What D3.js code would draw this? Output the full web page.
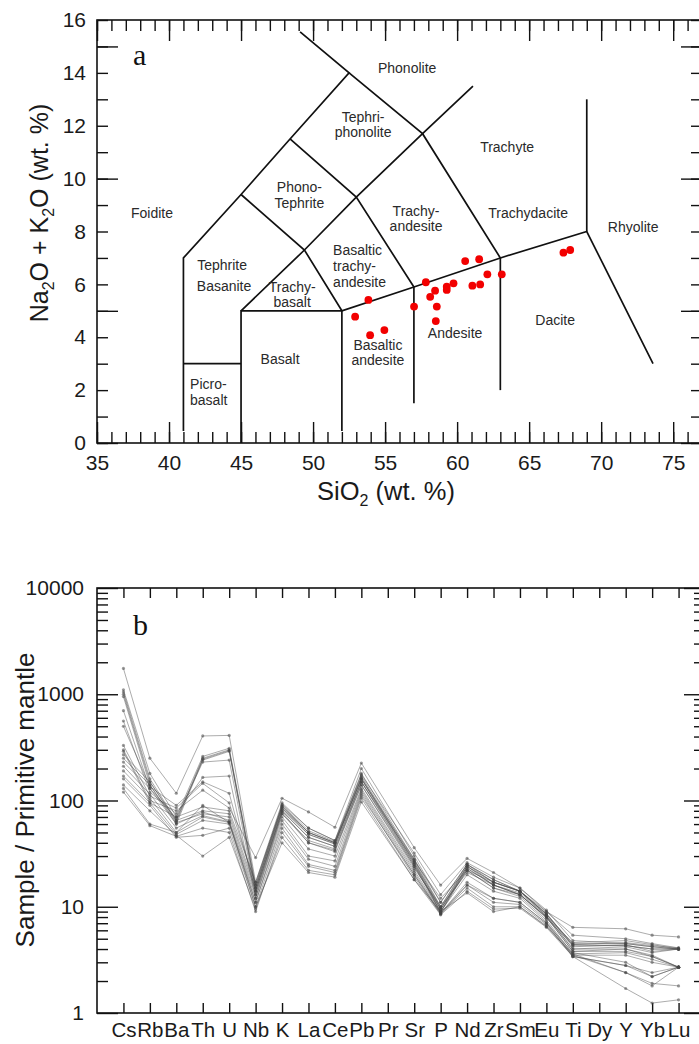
<!DOCTYPE html>
<html><head><meta charset="utf-8">
<script src="https://cdn.jsdelivr.net/npm/d3@7"></script>
<style>
body{margin:0;background:#fff;}
svg{display:block;font-family:"Liberation Sans",Arial,Helvetica,sans-serif;}
</style></head>
<body><svg id="c" width="699" height="1044"></svg>
<script>
// ---------- Panel a: TAS data ----------
const sio2 = [53.84,52.92,53.96,54.95,57.01,57.83,58.47,58.13,58.59,58.52,59.28,59.28,59.75,60.56,61.53,61.06,61.60,62.10,63.10,67.38,67.85];
const alkali = [5.41,4.78,4.08,4.27,5.16,6.08,5.76,5.53,5.16,4.61,5.91,5.79,6.04,6.88,6.95,5.95,6.00,6.38,6.38,7.20,7.30];

// TAS field boundaries (SiO2, Na2O+K2O)
const tasLines = [
  [[41,0.45],[41,7],[45,9.4],[48.4,11.5],[52.5,14],[49.1,15.55]],
  [[41,3],[45,3]],
  [[45,0],[45,5],[52,5],[57,5.9],[63,7],[69,8],[73.6,3.0]],
  [[52,0.45],[52,5]],
  [[57,1.5],[57,5.9]],
  [[63,2.0],[63,7]],
  [[69,8],[69,13]],
  [[45,5],[49.4,7.3],[53,9.3],[57.6,11.7],[61.1,13.5]],
  [[45,9.4],[49.4,7.3],[52,5]],
  [[48.4,11.5],[53,9.3],[57,5.9]],
  [[52.5,14],[57.6,11.7],[63,7]]
];
// field names ("|" separates lines of one label)
const fieldNames = ["Phonolite","Tephri-|phonolite","Trachyte","Phono-|Tephrite","Foidite","Trachy-|andesite","Trachydacite","Rhyolite","Tephrite","Basanite","Trachy-|basalt","Basaltic|trachy-|andesite","Basalt","Picro-|basalt","Basaltic|andesite","Andesite","Dacite"];
const fieldX = [56.53,53.47,63.47,49.05,38.82,57.15,64.93,72.22,43.68,43.82,48.55,51.39,47.71,41.46,54.50,59.86,66.81];
const fieldY = [14.18,12.29,11.20,9.64,8.70,8.74,8.70,8.17,6.73,5.94,5.86,7.19,3.18,2.19,3.67,4.16,4.65];
const fieldAnchor = ["middle","middle","middle","middle","middle","middle","middle","middle","middle","middle","middle","start","middle","start","middle","middle","middle"];

const xTicksA = [35,40,45,50,55,60,65,70,75];
const yTicksA = [0,2,4,6,8,10,12,14,16];

// ---------- Panel b: spider diagram data ----------
const elements = ["Cs","Rb","Ba","Th","U","Nb","K","La","Ce","Pb","Pr","Sr","P","Nd","Zr","Sm","Eu","Ti","Dy","Y","Yb","Lu"];
const s01 = [1750,250,117,405,410,17,95,55,42,200,null,30,11,25,18,14,8.5,4.5,null,4.5,4.2,4.0];
const s02 = [1100,180,70,260,310,16,90,52,41,180,null,28,10,25,17,14,8.7,4.3,null,4.3,4.0,4.0];
const s03 = [1050,160,65,250,300,15,88,50,40,170,null,27,9.5,24,17,14,8.5,4.2,null,4.4,3.8,4.0];
const s04 = [1000,150,63,245,295,15,85,50,40,165,null,26,9,24,16,13.5,8.2,4.0,null,4.2,3.7,4.0];
const s05 = [950,140,60,240,290,14,82,48,39,160,null,25,8.8,23,16,13,8,3.8,null,4.0,3.5,2.7];
const s06 = [700,130,68,230,240,13,80,45,37,150,null,24,9.5,22,15,13,7.8,4.4,null,4.6,4.3,4.1];
const s07 = [560,120,75,165,170,12,75,42,35,140,null,23,10,21,16,13,8,4.6,null,4.8,4.4,4.0];
const s08 = [500,135,90,150,117,14,78,40,34,150,null,27,12,22,17,14,9,5.4,null,5.0,4.5,4.1];
const s09 = [330,110,85,145,95,16,92,55,42,175,null,32,13,26,19,15,9.3,4.8,null,4.5,4.2,4.0];
const s10 = [300,100,80,125,85,29,105,78,56,225,null,36,16,28.5,21,15,9,6.4,null,6.2,5.4,5.2];
const s11 = [290,95,70,87,80,17,88,50,40,160,null,28,11,25,18,14,8.5,4.4,null,4.3,4.0,4.0];
const s12 = [270,150,65,80,75,15,85,48,39,160,null,26,10,24,17,14,8.2,4.0,null,4.0,3.4,2.7];
const s13 = [250,140,62,75,70,14,80,45,37,150,null,25,9.5,23,16,13,8,3.8,null,3.8,3.4,2.7];
const s14 = [230,130,60,78,65,13,75,40,33,140,null,24,9,22,15,12.5,7.5,3.6,null,3.7,3.2,2.7];
const s15 = [210,115,55,72,63,12,70,35,30,130,null,22,9,20,14,12,7.2,3.5,null,3.5,3.0,2.7];
const s16 = [190,105,50,70,62,11,65,30,27,125,null,21,8.7,17,12,11,7,3.4,null,2.8,2.4,2.7];
const s17 = [170,95,48,65,60,11,60,28,24,120,null,20,8.5,16,11,10.5,6.8,3.4,null,2.8,2.2,2.7];
const s18 = [160,90,45,47,55,10,55,25,22,115,null,19,8.6,15,10,10,6.6,3.5,null,2.4,1.9,1.8];
const s19 = [140,80,47,30,45,9.5,45,22,20,105,null,18,8.4,14,9.5,9.7,6.4,3.4,null,1.7,1.24,1.33];
const s20 = [130,60,50,90,62,10,40,21,19,97,null,18,9,13.5,9,10,6.5,3.6,null,2.4,1.8,2.7];
const s21 = [120,58,46,55,50,9,50,24,21,110,null,20,8.8,16,12,11,7,3.7,null,3.0,2.2,2.7];
const samples = [s01,s02,s03,s04,s05,s06,s07,s08,s09,s10,s11,s12,s13,s14,s15,s16,s17,s18,s19,s20,s21];
const yTicksB = [1,10,100,1000,10000];

// ================= drawing =================
const svg = d3.select("#c");

function styleAxis(g, fs){
  g.select(".domain").remove();
  g.selectAll(".tick line").attr("stroke","#111").attr("stroke-width",1.4);
  g.selectAll(".tick text").attr("fill","#1a1a1a").style("font-size",fs+"px").style("font-family","'Liberation Sans',Arial,sans-serif");
}

// ---- Panel a ----
const xa = d3.scaleLinear().domain([35,77]).range([97,702]);
const ya = d3.scaleLinear().domain([0,16]).range([443,20]);
const ga = svg.append("g");

const intsX = d3.range(35,78), intsY = d3.range(0,17);
const majX = intsX.filter(v=>v%5===0), majY = intsY.filter(v=>v%5===0);
// bottom
ga.append("g").attr("transform","translate(0,443)").call(d3.axisBottom(xa).tickValues(intsX).tickSize(-11).tickFormat("")).call(g=>styleAxis(g,20));
ga.append("g").attr("transform","translate(0,443)").call(d3.axisBottom(xa).tickValues(majX).tickSize(-21).tickFormat("")).call(g=>styleAxis(g,20));
ga.append("g").attr("transform","translate(0,443)").call(d3.axisBottom(xa).tickValues(xTicksA).tickSize(0).tickPadding(12)).call(g=>styleAxis(g,21));
// top
ga.append("g").attr("transform","translate(0,20)").call(d3.axisTop(xa).tickValues(intsX).tickSize(-11).tickFormat("")).call(g=>styleAxis(g,20));
ga.append("g").attr("transform","translate(0,20)").call(d3.axisTop(xa).tickValues(majX).tickSize(-21).tickFormat("")).call(g=>styleAxis(g,20));
// left
ga.append("g").attr("transform","translate(97,0)").call(d3.axisLeft(ya).tickValues(intsY).tickSize(-11).tickFormat("")).call(g=>styleAxis(g,20));
ga.append("g").attr("transform","translate(97,0)").call(d3.axisLeft(ya).tickValues(majY).tickSize(-21).tickFormat("")).call(g=>styleAxis(g,20));
ga.append("g").attr("transform","translate(97,0)").call(d3.axisLeft(ya).tickValues(yTicksA).tickSize(0).tickPadding(11)).call(g=>styleAxis(g,21));
// right
ga.append("g").attr("transform","translate(702,0)").call(d3.axisRight(ya).tickValues(intsY).tickSize(-11).tickFormat("")).call(g=>styleAxis(g,20));
ga.append("g").attr("transform","translate(702,0)").call(d3.axisRight(ya).tickValues(majY).tickSize(-21).tickFormat("")).call(g=>styleAxis(g,20));
// frame
ga.append("rect").attr("x",97).attr("y",20).attr("width",605).attr("height",423).attr("fill","none").attr("stroke","#111").attr("stroke-width",1.6);

// field boundaries
const lineA = d3.line().x(d=>xa(d[0])).y(d=>ya(d[1]));
ga.append("g").selectAll("path").data(tasLines).join("path")
  .attr("d",lineA).attr("fill","none").attr("stroke","#111").attr("stroke-width",1.7).attr("stroke-linejoin","miter");

// field labels (multi-line labels are one text element with tspans)
const LS = 15.8; // line spacing
const lab = ga.append("g").selectAll("text").data(fieldNames).join("text")
  .attr("x",(d,i)=>xa(fieldX[i]))
  .attr("y",(d,i)=>ya(fieldY[i]) + 5 - (d.split("|").length-1)*(LS-13)/2)
  .attr("text-anchor",(d,i)=>fieldAnchor[i])
  .attr("fill","#2a2a2a").style("font-size","14px");
lab.each(function(d,i){
  const t = d3.select(this);
  d.split("|").forEach((ln,k)=>{
    t.append("tspan").attr("x",xa(fieldX[i])).attr("dy",k===0?0:LS).text(ln);
  });
});

// points
ga.append("g").selectAll("circle").data(sio2).join("circle")
  .attr("cx",d=>xa(d)).attr("cy",(d,i)=>ya(alkali[i])).attr("r",3.9).attr("fill","#f20000");

// panel label
ga.append("text").attr("x",133).attr("y",65).style("font-family","'Liberation Serif','Times New Roman',serif").style("font-size","30px").attr("fill","#111").text("a");

// axis titles
const xt = ga.append("text").attr("x",386).attr("y",500).attr("text-anchor","middle").style("font-size","25.5px").attr("fill","#1a1a1a");
xt.append("tspan").text("SiO");
xt.append("tspan").attr("dy",6).style("font-size","16px").text("2");
xt.append("tspan").attr("dy",-6).text(" (wt. %)");

const yt = ga.append("text").attr("transform","translate(48,213) rotate(-90)").attr("text-anchor","middle").style("font-size","25px").attr("fill","#1a1a1a");
yt.append("tspan").text("Na");
yt.append("tspan").attr("dy",6).style("font-size","16px").text("2");
yt.append("tspan").attr("dy",-6).text("O + K");
yt.append("tspan").attr("dy",6).style("font-size","16px").text("2");
yt.append("tspan").attr("dy",-6).text("O (wt. %)");

// ---- Panel b ----
const xb = d3.scaleLinear().domain([-1,22]).range([97,705]);
const yb = d3.scaleLog().domain([1,10000]).range([1013,588]);
const gb = svg.append("g");
const idx = d3.range(elements.length);
const minorLog = [];
[1,10,100,1000].forEach(dec=>{for(let k=2;k<=9;k++) minorLog.push(dec*k);});

gb.append("g").attr("transform","translate(0,1013)").call(d3.axisBottom(xb).tickValues(idx).tickSize(-10).tickFormat(i=>elements[i]).tickPadding(9)).call(g=>styleAxis(g,20.5));
gb.append("g").attr("transform","translate(0,588)").call(d3.axisTop(xb).tickValues(idx).tickSize(-10).tickFormat("")).call(g=>styleAxis(g,19));
gb.append("g").attr("transform","translate(97,0)").call(d3.axisLeft(yb).tickValues(minorLog).tickSize(-11).tickFormat("")).call(g=>styleAxis(g,20));
gb.append("g").attr("transform","translate(97,0)").call(d3.axisLeft(yb).tickValues(yTicksB).tickSize(-21).tickFormat(d3.format("d")).tickPadding(13)).call(g=>styleAxis(g,21));
gb.append("g").attr("transform","translate(705,0)").call(d3.axisRight(yb).tickValues(minorLog).tickSize(-11).tickFormat("")).call(g=>styleAxis(g,20));
gb.append("g").attr("transform","translate(705,0)").call(d3.axisRight(yb).tickValues(yTicksB).tickSize(-21).tickFormat("")).call(g=>styleAxis(g,20));
gb.append("rect").attr("x",97).attr("y",588).attr("width",608).attr("height",425).attr("fill","none").attr("stroke","#111").attr("stroke-width",1.6);

const lineB = d3.line().x(d=>xb(d.i)).y(d=>yb(d.v));
const pts = samples.map(s=>s.map((v,i)=>({i,v})).filter(d=>d.v!==null));
const sg = gb.append("g").selectAll("g").data(pts).join("g");
sg.append("path").attr("d",lineB).attr("fill","none").attr("stroke","rgba(70,70,70,0.5)").attr("stroke-width",0.9);
sg.selectAll("circle").data(d=>d).join("circle").attr("cx",d=>xb(d.i)).attr("cy",d=>yb(d.v)).attr("r",1.6)
  .attr("fill","rgba(70,70,70,0.55)");

gb.append("text").attr("x",133).attr("y",635).style("font-family","'Liberation Serif','Times New Roman',serif").style("font-size","30px").attr("fill","#111").text("b");

gb.append("text").attr("transform","translate(34,800) rotate(-90)").attr("text-anchor","middle").style("font-size","26px").attr("fill","#1a1a1a").text("Sample / Primitive mantle");
</script>
</body></html>
